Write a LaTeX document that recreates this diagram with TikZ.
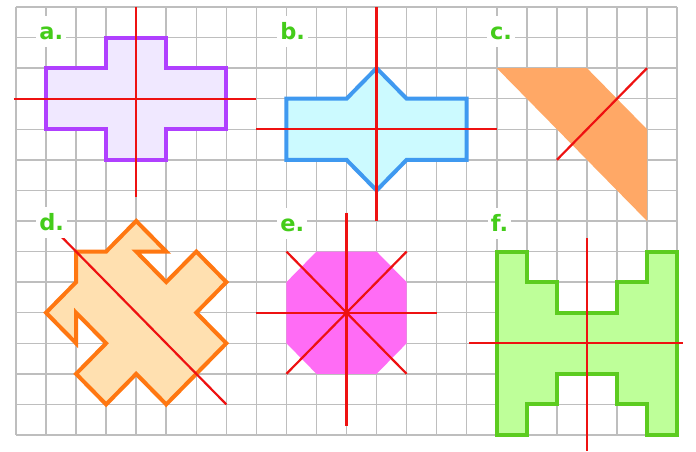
\documentclass[tikz,border=0pt]{standalone}
\usepackage{fontspec}
\setmainfont{DejaVu Sans}
\definecolor{gridgray}{HTML}{BEBEBE}
\definecolor{symred}{HTML}{EE1111}
\definecolor{labelgreen}{HTML}{44CC1A}
\definecolor{violetline}{HTML}{B040FF}
\definecolor{violetfill}{HTML}{F0E8FF}
\definecolor{blueline}{HTML}{3F99F0}
\definecolor{bluefill}{HTML}{CCFAFF}
\definecolor{orangefill}{HTML}{FFA866}
\definecolor{peachline}{HTML}{FF7711}
\definecolor{peachfill}{HTML}{FFE0B0}
\definecolor{pinkfill}{HTML}{FF6CF5}
\definecolor{greenline}{HTML}{5CCC1F}
\definecolor{greenfill}{HTML}{BEFF99}
\tikzstyle{gridline} = [draw=gridgray, line width=1.5pt, xstep=30.05pt, ystep=30.57pt]
\tikzstyle{symline} = [draw=symred, line width=2.2pt]
\tikzstyle{outline} = [line width=4pt, line join=miter]
\tikzstyle{figlabel} = [fill=white, text=labelgreen, inner xsep=3pt, inner ysep=2pt,
text height=21pt, text depth=6pt, anchor=base west,
font=\bfseries\fontsize{22.5}{24}\selectfont]

\begin{document}
\begin{tikzpicture}[x=30.05pt, y=-30.57pt]
              \useasboundingbox (-0.532,-0.229) rectangle (22.629,14.524);
              \fill[white] (-0.532,-0.229) rectangle (22.629,14.524);
              \draw[gridline] (0,0) grid (22,14);

              % a.
              \filldraw[outline, draw=violetline, fill=violetfill]
              (3,1) -- (5,1) -- (5,2) -- (7,2) -- (7,4) -- (5,4) -- (5,5)
              -- (3,5) -- (3,4) -- (1,4) -- (1,2) -- (3,2) -- cycle;
              \draw[symline] (-0.07,3) -- (8,3);
              \draw[symline] (4,0) -- (4,6.2);

              % b.
              \filldraw[outline, draw=blueline, fill=bluefill]
              (9,3) -- (11,3) -- (12,2) -- (13,3) -- (15,3) -- (15,5)
              -- (13,5) -- (12,6) -- (11,5) -- (9,5) -- cycle;
              \draw[symline] (8,4) -- (16,4);
              \draw[symline] (12,0) -- (12,7);

              % c.
              \fill[orangefill] (16,2) -- (19,2) -- (21,4) -- (21,7) -- cycle;
              \draw[symline] (18,5) -- (21,2);

              % d.
              \filldraw[outline, draw=peachline, fill=peachfill]
              (4,7) -- (5,8) -- (4,8) -- (5,9) -- (6,8) -- (7,9) -- (6,10)
              -- (7,11) -- (5,13) -- (4,12) -- (3,13) -- (2,12) -- (3,11)
              -- (2,10) -- (2,11) -- (1,10) -- (2,9) -- (2,8) -- (3,8) -- cycle;
              \draw[symline] (1.5,7.5) -- (7,13);

              % e.
              \fill[pinkfill] (10,8) -- (12,8) -- (13,9) -- (13,11)
              -- (12,12) -- (10,12) -- (9,11) -- (9,9) -- cycle;
              \draw[symline] (11,6.73) -- (11,13.7);
              \draw[symline] (8,10) -- (14,10);
              \draw[symline] (9,8) -- (13,12);
              \draw[symline] (13,8) -- (9,12);

              % f.
              \filldraw[outline, draw=greenline, fill=greenfill]
              (16,8) -- (17,8) -- (17,9) -- (18,9) -- (18,10) -- (20,10)
              -- (20,9) -- (21,9) -- (21,8) -- (22,8) -- (22,14) -- (21,14)
              -- (21,13) -- (20,13) -- (20,12) -- (18,12) -- (18,13) -- (17,13)
              -- (17,14) -- (16,14) -- cycle;
              \draw[symline] (15.08,11) -- (22.2,11);
              \draw[symline] (19,7.57) -- (19,14.52);

              \node (la) [figlabel] at (0.67,1.06) {a.};
              \node (lb) [figlabel] at (8.69,1.06) {b.};
              \node (lc) [figlabel] at (15.67,1.06) {c.};
              \node (ld) [figlabel] at (0.67,7.3) {d.};
              \node (le) [figlabel] at (8.69,7.33) {e.};
              \node (lf) [figlabel] at (15.7,7.33) {f.};
            \end{tikzpicture}
\end{document}
